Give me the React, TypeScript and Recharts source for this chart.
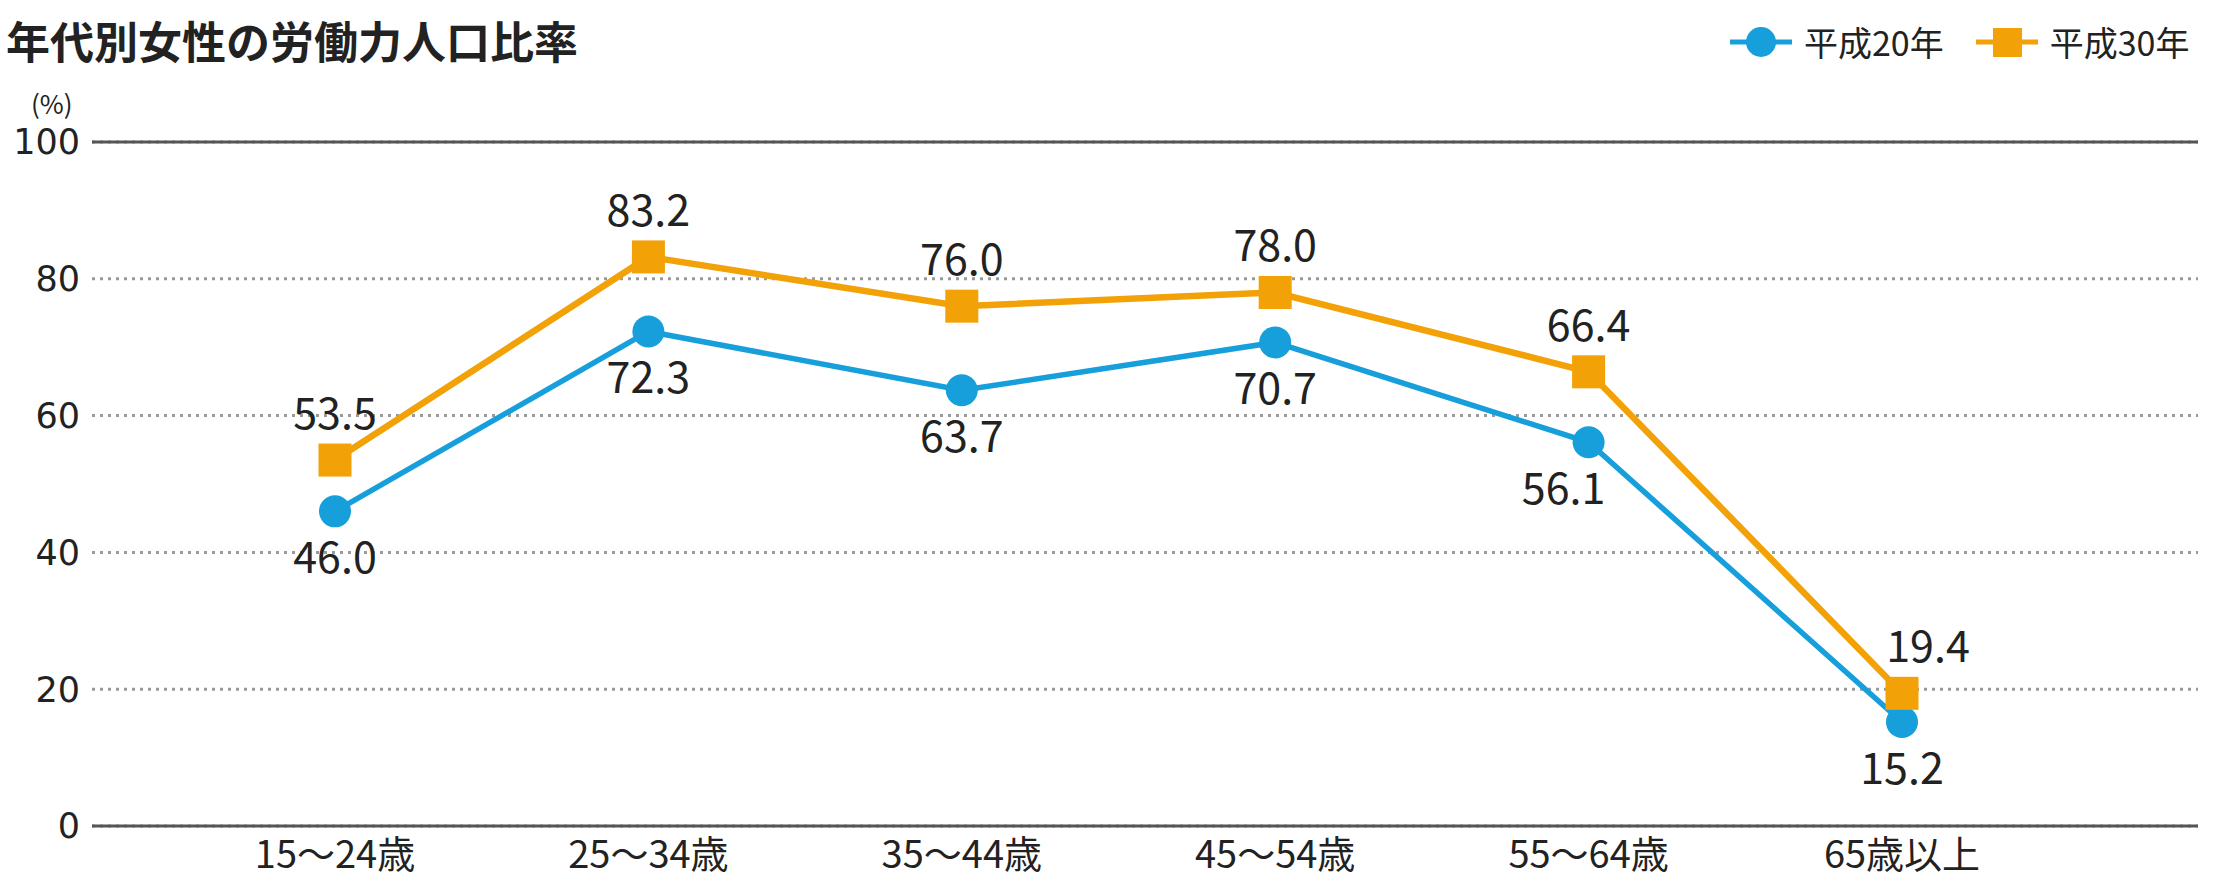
import { LineChart, Line, XAxis, YAxis, CartesianGrid, ReferenceLine, LabelList, Legend } from 'recharts'

const AGE_GROUPS = ['15〜24歳', '25〜34歳', '35〜44歳', '45〜54歳', '55〜64歳', '65歳以上']
const HEISEI_20 = [46.0, 72.3, 63.7, 70.7, 56.1, 15.2]
const HEISEI_30 = [53.5, 83.2, 76.0, 78.0, 66.4, 19.4]
const Y_TICKS = [0, 20, 40, 60, 80, 100]

const BLUE = '#169fdb'
const ORANGE = '#f2a107'
const INK = '#222222'
const FONT = '"Noto Sans CJK JP", "Noto Sans", sans-serif'

// small per-point nudges so labels don't sit on the lines
const BLUE_LABEL_DX = [0, 0, 0, 0, -25, 0]
const ORANGE_LABEL_DX = [0, 0, 0, 0, 0, 26]

const chartData = AGE_GROUPS.map((age, i) => ({
  age,
  h20: HEISEI_20[i],
  h30: HEISEI_30[i],
}))

function SquareDot(props: any) {
  const { cx, cy } = props
  if (cx == null || cy == null) return null
  return <rect x={cx - 16.5} y={cy - 16.5} width={33} height={33} fill={ORANGE} />
}

function makeLabel(place: 'top' | 'bottom', shifts: number[]) {
  return (props: any) => {
    const { x, y, value, index } = props
    if (x == null || y == null) return null
    const baseline = place === 'top' ? y - 31 : y + 31 + 31
    return (
      <text
        x={x + (shifts[index] ?? 0)}
        y={baseline}
        textAnchor="middle"
        fontSize={43}
        fontFamily={FONT}
        fill={INK}
      >
        {Number(value).toFixed(1)}
      </text>
    )
  }
}

function LegendBox() {
  const items = [
    { name: '平成20年', color: BLUE, shape: 'circle' },
    { name: '平成30年', color: ORANGE, shape: 'square' },
  ]
  return (
    <div style={{ display: 'flex', alignItems: 'center', gap: 32 }}>
      {items.map((it) => (
        <div key={it.name} style={{ display: 'flex', alignItems: 'center', gap: 12 }}>
          <svg width={62} height={34}>
            <line x1={0} y1={17} x2={62} y2={17} stroke={it.color} strokeWidth={5} />
            {it.shape === 'circle' ? (
              <circle cx={31} cy={17} r={15} fill={it.color} />
            ) : (
              <rect x={17} y={3} width={29} height={29} fill={it.color} />
            )}
          </svg>
          <span style={{ fontSize: 34, lineHeight: '34px', color: INK, fontFamily: FONT }}>{it.name}</span>
        </div>
      ))}
    </div>
  )
}

export default function App() {
  return (
    <div
      style={{
        position: 'absolute',
        left: 0,
        top: 0,
        width: 2220,
        height: 883,
        background: '#ffffff',
        fontFamily: FONT,
        overflow: 'hidden',
      }}
    >
      <div
        style={{
          position: 'absolute',
          left: 6,
          top: 18,
          fontSize: 44,
          lineHeight: '44px',
          fontWeight: 700,
          color: INK,
          whiteSpace: 'nowrap',
        }}
      >
        年代別女性の労働力人口比率
      </div>
      <div style={{ position: 'absolute', left: 31, top: 90, fontSize: 26, lineHeight: '26px', color: INK }}>
        (%)
      </div>
      <LineChart width={2220} height={883} data={chartData} margin={{ top: 142, right: 22, bottom: 0, left: 0 }}>
        <CartesianGrid vertical={false} stroke="#9a9a9a" strokeWidth={3} strokeDasharray="3 5" />
        <ReferenceLine y={100} stroke="#555555" strokeWidth={3} />
        <XAxis
          dataKey="age"
          height={57}
          padding={{ left: 243, right: 296 }}
          axisLine={{ stroke: '#555555', strokeWidth: 3 }}
          tickLine={false}
          tickSize={0}
          tickMargin={15}
          tick={{ fontSize: 38, fill: INK, fontFamily: FONT }}
          interval={0}
        />
        <YAxis
          width={92}
          domain={[0, 100]}
          ticks={Y_TICKS}
          axisLine={false}
          tickLine={false}
          tickSize={0}
          tickMargin={12}
          tick={{ fontSize: 35, fill: INK, fontFamily: '"DejaVu Sans", sans-serif' }}
        />
        <Legend
          layout="horizontal"
          verticalAlign="middle"
          align="center"
          wrapperStyle={{ top: 25, left: 1730, width: 480 }}
          content={() => <LegendBox />}
        />
        <Line
          dataKey="h20"
          name="平成20年"
          stroke={BLUE}
          strokeWidth={5.5}
          dot={{ r: 16, fill: BLUE, stroke: 'none' }}
          activeDot={false}
          isAnimationActive={false}
        >
          <LabelList dataKey="h20" content={makeLabel('bottom', BLUE_LABEL_DX)} />
        </Line>
        <Line
          dataKey="h30"
          name="平成30年"
          stroke={ORANGE}
          strokeWidth={6.5}
          dot={<SquareDot />}
          activeDot={false}
          isAnimationActive={false}
        >
          <LabelList dataKey="h30" content={makeLabel('top', ORANGE_LABEL_DX)} />
        </Line>
      </LineChart>
    </div>
  )
}
